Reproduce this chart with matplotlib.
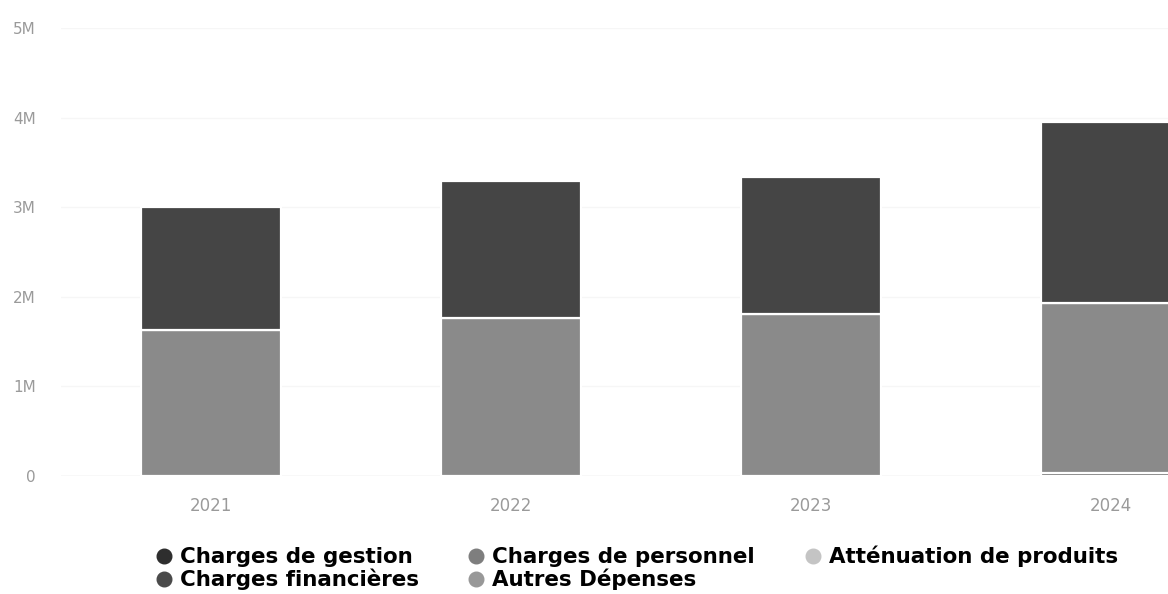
import matplotlib
matplotlib.use("Agg")
import matplotlib.pyplot as plt
from matplotlib.lines import Line2D
import numpy as np

years = ["2021", "2022", "2023", "2024"]
series_names = ["Charges de gestion", "Charges de personnel", "Atténuation de produits",
                "Charges financières", "Autres Dépenses"]
charges_gestion = [1.37e6, 1.53e6, 1.53e6, 2.02e6]
charges_personnel = [1.63e6, 1.76e6, 1.81e6, 1.90e6]
attenuation_produits = [0.0, 0.0, 0.0, 0.0]
charges_financieres = [0.0, 0.0, 0.0, 0.03e6]
autres_depenses = [0.0, 0.0, 0.0, 0.0]
y_ticks = [0, 1e6, 2e6, 3e6, 4e6, 5e6]
y_tick_labels = ["0", "1M", "2M", "3M", "4M", "5M"]

colors = {
    "Charges de gestion": "#454545",
    "Charges de personnel": "#8a8a8a",
    "Atténuation de produits": "#c9c9c9",
    "Charges financières": "#525252",
    "Autres Dépenses": "#9c9c9c",
}
legend_colors = {
    "Charges de gestion": "#2e2e2e",
    "Charges de personnel": "#7e7e7e",
    "Atténuation de produits": "#c4c4c4",
    "Charges financières": "#4a4a4a",
    "Autres Dépenses": "#989898",
}

values = {
    "Charges de gestion": charges_gestion,
    "Charges de personnel": charges_personnel,
    "Atténuation de produits": attenuation_produits,
    "Charges financières": charges_financieres,
    "Autres Dépenses": autres_depenses,
}

W, H = 1168, 594
fig = plt.figure(figsize=(W / 100, H / 100), dpi=100)
ax = fig.add_axes([61 / W, 118 / H, (W - 61) / W, (566 - 118) / H])

x = np.arange(len(years))
# first series sits on top of the stack
stack_order = ["Autres Dépenses", "Charges financières", "Atténuation de produits",
               "Charges de personnel", "Charges de gestion"]
bottom = np.zeros(len(years))
for name in stack_order:
    v = np.array(values[name])
    ax.bar(x, v, bottom=bottom, width=0.467, color=colors[name],
           edgecolor="white", linewidth=1.6, zorder=3)
    bottom += v

ax.set_xlim(-0.5, -0.5 + (W - 61) / 300)
ax.set_ylim(0, 5e6)
ax.set_yticks(y_ticks)
ax.set_yticklabels(y_tick_labels)
ax.set_xticks(x)
ax.set_xticklabels(years)

for s in ax.spines.values():
    s.set_visible(False)
ax.axhline(0, color="#e6e6e6", linewidth=1, zorder=2)
ax.grid(axis="y", color="#f6f6f6", linewidth=1, zorder=0)
ax.tick_params(axis="both", length=0, colors="#9a9a9a")
ax.tick_params(axis="y", pad=18, labelsize=11)
ax.tick_params(axis="x", pad=15, labelsize=12)
for lab in ax.get_xticklabels() + ax.get_yticklabels():
    lab.set_fontfamily("DejaVu Sans")

legend_order = ["Charges de gestion", "Charges financières", "Charges de personnel",
                "Autres Dépenses", "Atténuation de produits"]
handles = [Line2D([0], [0], marker="o", linestyle="none", markersize=10.5,
                  markerfacecolor=legend_colors[n], markeredgecolor=legend_colors[n])
           for n in legend_order]
fig.legend(handles, legend_order, loc="center", bbox_to_anchor=(636 / W, 1 - 568 / H),
           ncol=3, frameon=False, handletextpad=0.3, columnspacing=2.25,
           labelspacing=0.08, handlelength=0.9,
           prop={"family": "DejaVu Sans", "weight": "bold", "size": 15.4})

fig.savefig("out.png", dpi=100)
